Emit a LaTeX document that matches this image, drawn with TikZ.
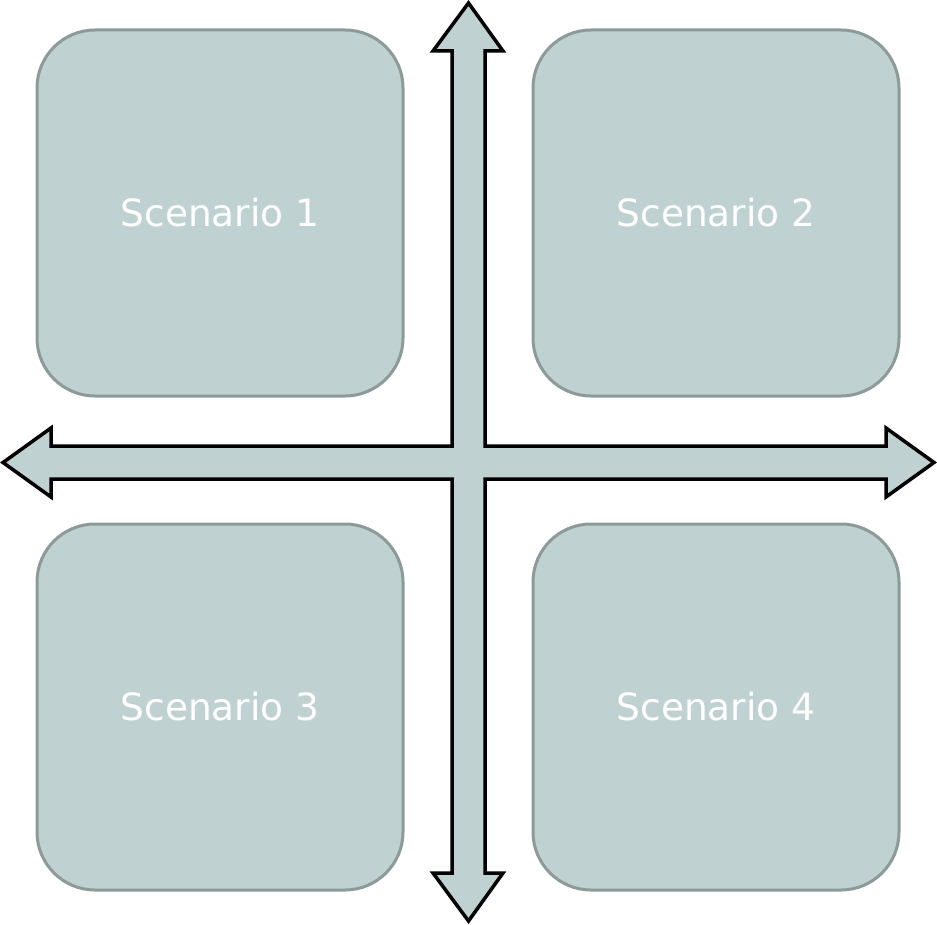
\documentclass[tikz,border=0pt]{standalone}
\usepackage{fontspec}
\setmainfont{DejaVu Sans}
\definecolor{boxfill}{HTML}{BFD1D0}
\definecolor{boxline}{HTML}{8C9A98}
\begin{document}
\begin{tikzpicture}[x=1pt,y=-1pt,
  scen/.style={draw=boxline, fill=boxfill, line width=3pt, rounded corners=58pt,
    minimum width=366pt, minimum height=366pt, inner sep=0pt, text=white,
    font=\fontsize{37.5}{44}\selectfont},
  cross/.style={draw=black, fill=boxfill, line width=3.5pt, line join=miter}]
\useasboundingbox (0,0) rectangle (937,925);
\node[scen] (s1) at (220,213) {Scenario 1};
\node[scen] (s2) at (716,213) {Scenario 2};
\node[scen] (s3) at (220,707) {Scenario 3};
\node[scen] (s4) at (716,707) {Scenario 4};
\draw[cross] (468.5,3) -- (503,51) -- (485,51) -- (485,446) -- (886,446) -- (886,428)
  -- (934,462.5) -- (886,497) -- (886,479) -- (485,479) -- (485,873) -- (503,873)
  -- (468.5,921) -- (433,873) -- (452,873) -- (452,479) -- (51,479) -- (51,497)
  -- (3,462.5) -- (51,428) -- (51,446) -- (452,446) -- (452,51) -- (433,51) -- cycle;
\end{tikzpicture}
\end{document}
